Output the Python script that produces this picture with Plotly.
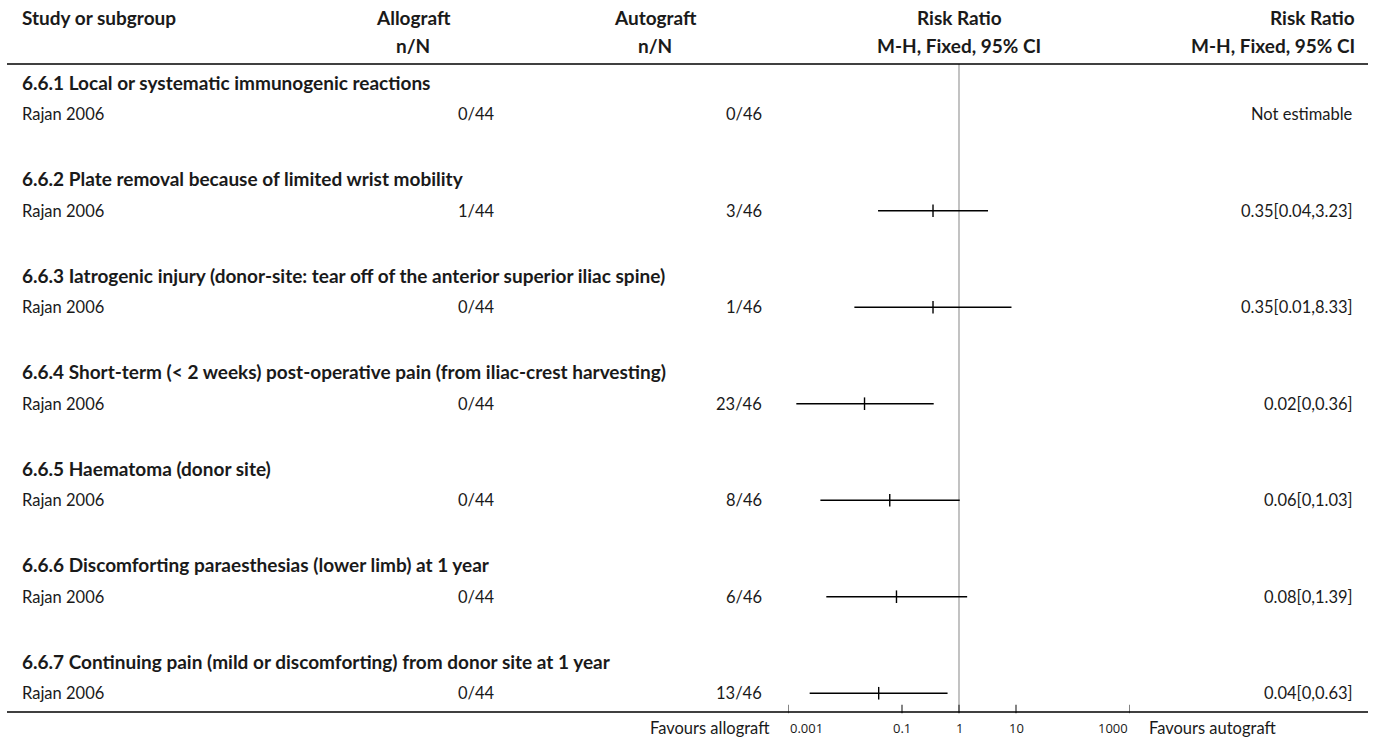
import math
import plotly.graph_objects as go

# ---- data ---------------------------------------------------------------
subgroups = [
    "6.6.1 Local or systematic immunogenic reactions",
    "6.6.2 Plate removal because of limited wrist mobility",
    "6.6.3 Iatrogenic injury (donor-site: tear off of the anterior superior iliac spine)",
    "6.6.4 Short-term (< 2 weeks) post-operative pain (from iliac-crest harvesting)",
    "6.6.5 Haematoma (donor site)",
    "6.6.6 Discomforting paraesthesias (lower limb) at 1 year",
    "6.6.7 Continuing pain (mild or discomforting) from donor site at 1 year",
]
studies = ["Rajan 2006"] * 7
allo_events = [0, 1, 0, 0, 0, 0, 0]
allo_totals = [44, 44, 44, 44, 44, 44, 44]
auto_events = [0, 3, 1, 23, 8, 6, 13]
auto_totals = [46, 46, 46, 46, 46, 46, 46]
rr = [None, 0.35, 0.35, 0.022, 0.061, 0.08, 0.039]
rr_lo = [None, 0.038, 0.0146, 0.0014, 0.0037, 0.0047, 0.0024]
rr_hi = [None, 3.23, 8.33, 0.36, 1.03, 1.39, 0.63]
tick_vals = [0.001, 0.1, 1, 10, 1000]
tick_text = ["0.001", "0.1", "1", "10", "1000"]

# ---- geometry -----------------------------------------------------------
W, H = 1375, 742
ROW = 32.17          # pixel height of one table row
FIRST = 82           # pixel centre of the first table row
AXIS_Y = 712         # pixel position of the bottom rule / x axis


def row_of(p):
    return (p - FIRST) / ROW


def px(x):
    return x / W


def py(y):
    return 1 - y / H


FONT = "Lato, sans-serif"
TXT = dict(family=FONT, size=16.5, color="#1a1a1a")
BOLD = dict(family=FONT, size=19, color="#1a1a1a", weight="bold")
TICK = dict(family="Open Sans", size=13, color="#1a1a1a")

fig = go.Figure()

# reference line at RR = 1
fig.add_trace(go.Scatter(
    x=[1, 1], y=[row_of(64), row_of(AXIS_Y)], mode="lines",
    line=dict(color="#9a9a9a", width=1.2), hoverinfo="skip", showlegend=False))

# tick marks rising from the bottom rule
fig.add_trace(go.Scatter(
    x=tick_vals, y=[row_of(AXIS_Y - 3)] * len(tick_vals), mode="markers",
    marker=dict(symbol="line-ns", size=6, line=dict(color="#333333", width=1.2)),
    hoverinfo="skip", showlegend=False))

annotations = []


def note(x, y, text, font, xanchor="left", yref="y", xref="paper"):
    annotations.append(dict(x=x, y=y, xref=xref, yref=yref, text=text,
                            showarrow=False, xanchor=xanchor, yanchor="middle",
                            font=font))


def fmt(v):
    return f"{round(v, 2):g}"


for k, title in enumerate(subgroups):
    r_title = 3 * k
    r_data = 3 * k + 1
    note(px(20), r_title, title, BOLD)
    note(px(20), r_data, studies[k], TXT)
    note(px(497), r_data, f"{allo_events[k]}/{allo_totals[k]}", TXT, "right")
    note(px(764), r_data, f"{auto_events[k]}/{auto_totals[k]}", TXT, "right")
    if rr[k] is None:
        note(px(1355), r_data, "Not estimable", TXT, "right")
        continue
    note(px(1355), r_data,
         f"{fmt(rr[k])}[{fmt(rr_lo[k])},{fmt(rr_hi[k])}]", TXT, "right")
    fig.add_trace(go.Scatter(
        x=[rr_lo[k], rr_hi[k]], y=[r_data, r_data], mode="lines",
        line=dict(color="black", width=1.4), hoverinfo="skip", showlegend=False))
    fig.add_trace(go.Scatter(
        x=[rr[k]], y=[r_data], mode="markers",
        marker=dict(symbol="line-ns", size=9, line=dict(color="black", width=1.4)),
        hoverinfo="skip", showlegend=False))

# column headers
hdr1, hdr2 = row_of(17), row_of(45)
note(px(20), hdr1, "Study or subgroup", BOLD)
note(px(413), hdr1, "Allograft", BOLD, "center")
note(px(413), hdr2, "n/N", BOLD, "center")
note(px(655), hdr1, "Autograft", BOLD, "center")
note(px(655), hdr2, "n/N", BOLD, "center")
note(px(959), hdr1, "Risk Ratio", BOLD, "center")
note(px(959), hdr2, "M-H, Fixed, 95% CI", BOLD, "center")
note(px(1357), hdr1, "Risk Ratio", BOLD, "right")
note(px(1357), hdr2, "M-H, Fixed, 95% CI", BOLD, "right")

# axis tick labels; the outermost ones sit inside the axis span
tick_row = row_of(728)
for i, (v, t) in enumerate(zip(tick_vals, tick_text)):
    anchor = "left" if i == 0 else ("right" if i == len(tick_vals) - 1 else "center")
    note(math.log10(v), tick_row, t, TICK, anchor, "y", "x")

# favours labels
note(px(772), tick_row, "Favours allograft", TXT, "right")
note(px(1147), tick_row, "Favours autograft", TXT, "left")

shapes = [
    dict(type="line", xref="paper", yref="paper", x0=px(7), x1=px(1368),
         y0=py(64), y1=py(64), line=dict(color="black", width=1.6)),
    dict(type="line", xref="paper", yref="paper", x0=px(7), x1=px(1368),
         y0=py(AXIS_Y), y1=py(AXIS_Y), line=dict(color="black", width=1.6)),
]

fig.update_layout(
    width=W, height=H,
    margin=dict(l=0, r=0, t=0, b=0, pad=0, autoexpand=False),
    plot_bgcolor="white", paper_bgcolor="white",
    showlegend=False,
    annotations=annotations,
    shapes=shapes,
    xaxis=dict(
        type="log", range=[-3, 3],
        domain=[px(788), px(1130)],
        anchor="free", position=py(AXIS_Y),
        showticklabels=False, ticks="",
        showline=False, showgrid=False, zeroline=False, automargin=False,
    ),
    yaxis=dict(
        range=[row_of(H), row_of(0)],
        domain=[0, 1], automargin=False,
        showgrid=False, zeroline=False, showticklabels=False, showline=False,
    ),
)

fig.write_html("out.html")
